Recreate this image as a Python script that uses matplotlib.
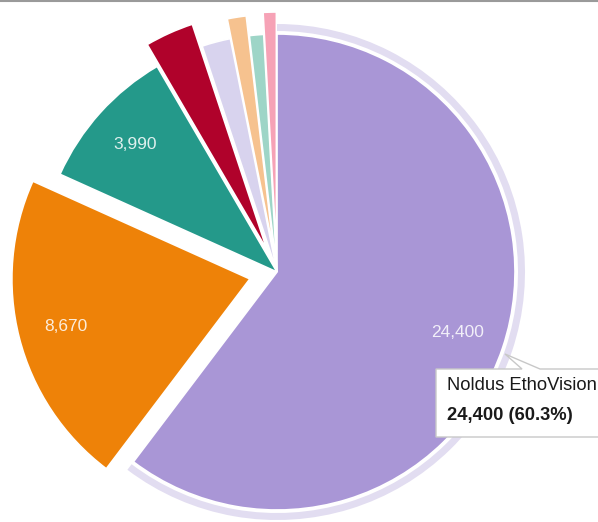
import numpy as np
import matplotlib
matplotlib.use('Agg')
import matplotlib.pyplot as plt
from matplotlib.patches import Wedge, Polygon

plt.rcParams['font.family'] = ['Liberation Sans', 'DejaVu Sans']

# slice values, clockwise from 12 o'clock
values = [24400, 8670, 3990, 1340, 790, 520, 390, 360]
colors = ['#a996d6', '#ee8208', '#24998a', '#b0022b', '#d8d3ee', '#f6c28f', '#9ed5c7', '#f6a2b6']
explode = [0, 28, 0, 24, 0, 20, 0, 22]  # pixels
label_min = 3000
hover_index = 0
hover_name = 'Noldus EthoVision'

W, H = 598, 522
cx, cy, r = 277, 250, 238

fig = plt.figure(figsize=(W / 100, H / 100), dpi=100)
ax = fig.add_axes([0, 0, 1, 1])

wedges, _ = ax.pie(values, colors=colors, explode=explode, startangle=90,
                   counterclock=False, radius=r, center=(cx, cy),
                   wedgeprops=dict(edgecolor='white', linewidth=1.2))

total = sum(values)

# value labels inside the big slices
for w, v in zip(wedges, values):
    if v < label_min:
        continue
    ang = np.deg2rad((w.theta1 + w.theta2) / 2)
    x0, y0 = w.center
    ax.text(x0 + 0.8 * r * np.cos(ang), y0 + 0.8 * r * np.sin(ang), f'{v:,}',
            color='white', alpha=0.85, fontsize=12.5, ha='center', va='center')

# hover ring around the highlighted slice
hw = wedges[hover_index]
ax.add_patch(Wedge(hw.center, r + 10, hw.theta1, hw.theta2, width=7,
                   facecolor='#e2ddf1', edgecolor='none'))

# tooltip with pointer
tip = [(436, 153), (522, 153), (505, 168), (540, 153), (610, 153), (610, 85), (436, 85)]
ax.add_patch(Polygon(tip, closed=True, facecolor='white', edgecolor='#c8c8c8',
                     linewidth=1, zorder=5))
pct = values[hover_index] / total * 100
ax.text(447, 137, hover_name, fontsize=13.2, color='#1a1a1a', va='center', zorder=6)
ax.text(447, 106, f'{values[hover_index]:,} ({pct:.1f}%)', fontsize=13.2,
        fontweight='bold', color='#1a1a1a', va='center', zorder=6)

# top border
ax.plot([0, W], [521, 521], color='#9a9a9a', linewidth=1.5)

ax.set_xlim(0, W)
ax.set_ylim(0, H)
ax.set_aspect('equal')
ax.axis('off')

fig.savefig('out.png', dpi=100)
